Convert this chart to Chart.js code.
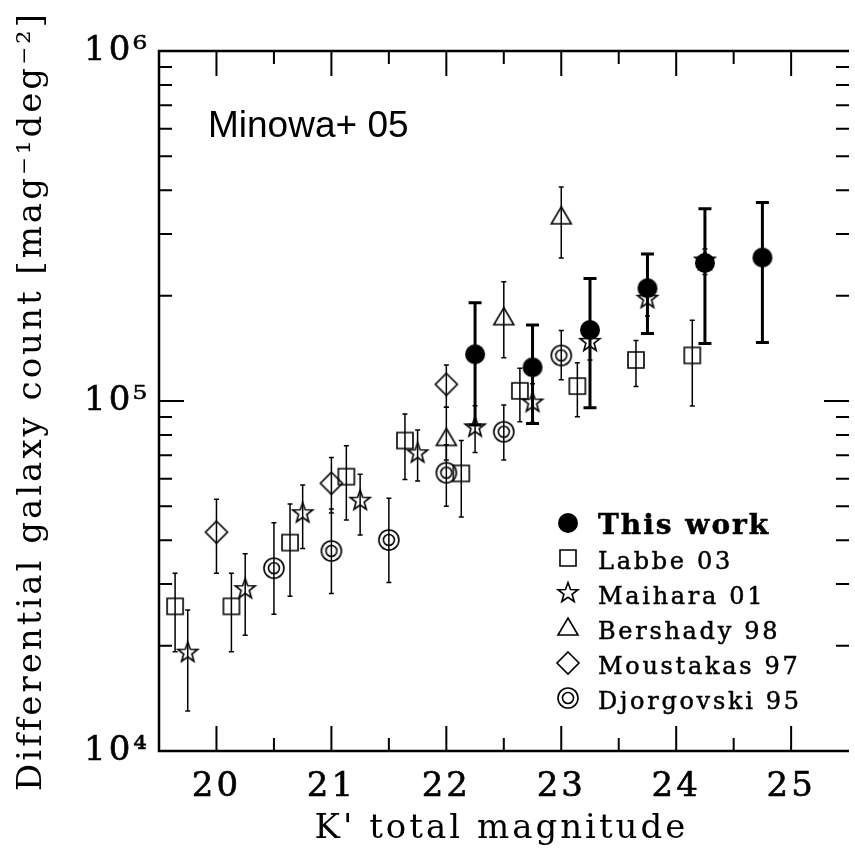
<!DOCTYPE html>
<html>
<head>
<meta charset="utf-8">
<script src="https://cdn.jsdelivr.net/npm/chart.js@4.4.1/dist/chart.umd.min.js"></script>
<style>
  html, body { margin: 0; padding: 0; background: #fff; overflow: hidden; }
  #wrap { width: 855px; height: 855px; }
</style>
</head>
<body>
<div id="wrap"><canvas id="myChart" width="855" height="855"></canvas></div>
<script>
// K' magnitude bins and counts (galaxies / mag / deg^2), with error bar ends
const thisWorkMag = [22.25, 22.75, 23.25, 23.75, 24.25, 24.75];
const thisWorkN   = [136000, 124800, 159600, 210000, 248000, 257000];
const thisWorkLo  = [85400, 86300, 95700, 156000, 146000, 147000];
const thisWorkHi  = [191000, 165000, 224000, 263000, 354000, 369000];

const labbeMag = [19.64, 20.13, 20.64, 21.13, 21.64, 22.13, 22.64, 23.14, 23.65, 24.14];
const labbeN   = [25900, 25900, 39400, 60800, 77100, 62100, 106900, 110300, 131000, 135000];
const labbeLo  = [19200, 19200, 27700, 45700, 59700, 46600, 87300, 90200, 110000, 96800];
const labbeHi  = [32200, 32200, 50800, 74500, 91800, 77100, 124000, 128600, 149000, 170000];

const maiharaMag = [19.75, 20.25, 20.75, 21.25, 21.75, 22.25, 22.75, 23.25, 23.75, 24.25];
const maiharaN   = [19100, 29000, 47800, 51900, 70900, 84100, 99000, 147600, 196000, 252000];
const maiharaLo  = [13000, 21400, 37900, 41400, 59100, 71300, 87000, 131000, 175000, 230000];
const maiharaHi  = [25300, 36600, 57500, 61800, 82600, 97000, 112000, 165000, 218000, 272000];

const bershadyMag = [22.0, 22.5, 23.0];
const bershadyN   = [78200, 173000, 336000];
const bershadyLo  = [67800, 133000, 256000];
const bershadyHi  = [96000, 219000, 409000];

const moustakasMag = [20.0, 21.0, 22.0];
const moustakasN   = [42200, 58200, 111600];
const moustakasLo  = [32200, 47900, 96000];
const moustakasHi  = [52400, 68900, 126700];

const djorgovskiMag = [20.5, 21.0, 21.5, 22.0, 22.5, 23.0];
const djorgovskiN   = [33300, 37300, 40100, 62400, 81700, 135000];
const djorgovskiLo  = [24600, 28200, 30300, 50000, 67800, 115000];
const djorgovskiHi  = [44900, 49100, 52700, 75000, 97400, 159000];

const magTicks = [20, 21, 22, 23, 24, 25];
const countTicks = [1e4, 1e5, 1e6];

const SERIF = '"DejaVu Serif", serif';
const SUP = {'4': '\u2074', '5': '\u2075', '6': '\u2076'};

// marker glyphs drawn once into small canvases, used as pointStyle
function makeMarker(kind) {
  const c = document.createElement('canvas');
  c.width = 26; c.height = 26;
  const g = c.getContext('2d');
  g.translate(13, 13);
  g.strokeStyle = '#000';
  g.fillStyle = '#000';
  g.lineWidth = 1.6;
  g.beginPath();
  if (kind === 'dot') {
    g.arc(0, 0, 10, 0, 2 * Math.PI);
    g.fill();
  } else if (kind === 'square') {
    g.rect(-8, -8, 16, 16);
    g.stroke();
  } else if (kind === 'star') {
    for (let i = 0; i < 10; i++) {
      const r = i % 2 ? 4.3 : 10.5;
      const a = -Math.PI / 2 + i * Math.PI / 5;
      g.lineTo(r * Math.cos(a), r * Math.sin(a));
    }
    g.closePath();
    g.stroke();
  } else if (kind === 'triangle') {
    g.moveTo(0, -10);
    g.lineTo(10, 7);
    g.lineTo(-10, 7);
    g.closePath();
    g.stroke();
  } else if (kind === 'diamond') {
    g.moveTo(0, -11);
    g.lineTo(11, 0);
    g.lineTo(0, 11);
    g.lineTo(-11, 0);
    g.closePath();
    g.stroke();
  } else if (kind === 'ring') {
    g.arc(0, 0, 10, 0, 2 * Math.PI);
    g.stroke();
    g.beginPath();
    g.arc(0, 0, 5.5, 0, 2 * Math.PI);
    g.stroke();
  }
  return c;
}

function series(label, kind, mag, n, lo, hi, thick) {
  return {
    label: label,
    data: mag.map((m, i) => ({x: m, y: n[i]})),
    errLo: lo,
    errHi: hi,
    errWidth: thick ? 3 : 1.5,
    capHalf: thick ? 6.5 : 2.5,
    pointStyle: makeMarker(kind),
    pointRadius: 10,
    showLine: false
  };
}

const datasets = [
  series('This work', 'dot', thisWorkMag, thisWorkN, thisWorkLo, thisWorkHi, true),
  series('Labbe 03', 'square', labbeMag, labbeN, labbeLo, labbeHi, false),
  series('Maihara 01', 'star', maiharaMag, maiharaN, maiharaLo, maiharaHi, false),
  series('Bershady 98', 'triangle', bershadyMag, bershadyN, bershadyLo, bershadyHi, false),
  series('Moustakas 97', 'diamond', moustakasMag, moustakasN, moustakasLo, moustakasHi, false),
  series('Djorgovski 95', 'ring', djorgovskiMag, djorgovskiN, djorgovskiLo, djorgovskiHi, false)
];

const frame = {
  id: 'frame',
  beforeDraw(chart) {
    chart.ctx.letterSpacing = '3px';
  },
  beforeDatasetsDraw(chart) {
    const ctx = chart.ctx, x = chart.scales.x, y = chart.scales.y;
    chart.data.datasets.forEach(ds => {
      ctx.save();
      ctx.strokeStyle = '#000';
      ctx.lineWidth = ds.errWidth;
      ds.data.forEach((p, i) => {
        const px = x.getPixelForValue(p.x);
        const top = y.getPixelForValue(ds.errHi[i]);
        const bot = y.getPixelForValue(ds.errLo[i]);
        ctx.beginPath();
        ctx.moveTo(px, top); ctx.lineTo(px, bot);
        ctx.moveTo(px - ds.capHalf, top); ctx.lineTo(px + ds.capHalf, top);
        ctx.moveTo(px - ds.capHalf, bot); ctx.lineTo(px + ds.capHalf, bot);
        ctx.stroke();
      });
      ctx.restore();
    });
  },
  afterDraw(chart) {
    const ctx = chart.ctx, xs = chart.scales.x, ys = chart.scales.y;
    const {left, right, top, bottom} = chart.chartArea;
    ctx.save();
    ctx.strokeStyle = '#000';

    // frame (right side runs off the picture)
    ctx.lineWidth = 2.5;
    ctx.beginPath();
    ctx.moveTo(right + 5, top);
    ctx.lineTo(left, top);
    ctx.lineTo(left, bottom);
    ctx.lineTo(right + 5, bottom);
    ctx.stroke();

    // inward ticks on all four sides
    ctx.lineWidth = 2;
    ctx.beginPath();
    for (let v = Math.ceil(xs.min * 2) / 2; v <= xs.max + 1e-9; v += 0.5) {
      const px = xs.getPixelForValue(v);
      const len = Number.isInteger(v) ? 25 : 13;
      ctx.moveTo(px, bottom); ctx.lineTo(px, bottom - len);
      ctx.moveTo(px, top); ctx.lineTo(px, top + len);
    }
    const edge = right + 5;
    const e0 = Math.round(Math.log10(ys.min)), e1 = Math.round(Math.log10(ys.max));
    for (let e = e0; e <= e1; e++) {
      for (let m = 1; m <= 9; m++) {
        const v = m * Math.pow(10, e);
        if (v > ys.max * 1.0001) break;
        const py = ys.getPixelForValue(v);
        const len = m === 1 ? 25 : 13;
        ctx.moveTo(left, py); ctx.lineTo(left + len, py);
        ctx.moveTo(edge, py); ctx.lineTo(edge - len, py);
      }
    }
    ctx.stroke();

    // panel label
    ctx.letterSpacing = '0px';
    ctx.fillStyle = '#000';
    ctx.textAlign = 'left';
    ctx.textBaseline = 'alphabetic';
    ctx.font = '37px "Liberation Sans", Arial, sans-serif';
    ctx.fillText('Minowa+ 05', 208, 137);

    // legend
    const lx = 568, ly = 523, rowH = 35;
    ctx.lineWidth = 0.5;
    chart.data.datasets.forEach((ds, i) => {
      const cy = ly + i * rowH;
      const img = ds.pointStyle;
      ctx.drawImage(img, lx - img.width / 2, cy - img.height / 2);
      if (i === 0) {
        ctx.font = 'bold 28px ' + SERIF;
        ctx.letterSpacing = '2px';
      } else {
        ctx.font = '24px ' + SERIF;
        ctx.letterSpacing = '2.7px';
      }
      ctx.fillText(ds.label, 598, cy + 11);
      ctx.strokeText(ds.label, 598, cy + 11);
    });
    ctx.restore();
  }
};

new Chart(document.getElementById('myChart'), {
  type: 'scatter',
  data: { datasets: datasets },
  options: {
    responsive: false,
    animation: false,
    devicePixelRatio: 1,
    layout: { padding: { left: 0, top: 51, right: 0, bottom: 0 } },
    plugins: {
      legend: { display: false },
      tooltip: { enabled: false }
    },
    scales: {
      x: {
        type: 'linear',
        min: 19.5,
        max: 25.46,
        afterBuildTicks: s => { s.ticks = magTicks.map(v => ({value: v})); },
        afterFit: s => { s.height = 104; },
        grid: { display: false, drawTicks: false },
        border: { display: false },
        ticks: {
          color: '#000',
          font: { family: SERIF, size: 34 },
          textStrokeColor: '#000',
          textStrokeWidth: 0.6,
          padding: 16,
          maxRotation: 0,
          autoSkip: false
        },
        title: {
          display: true,
          text: "K' total magnitude",
          color: '#000',
          font: { family: SERIF, size: 34 },
          padding: { top: 0, bottom: 5 }
        }
      },
      y: {
        type: 'logarithmic',
        min: 1e4,
        max: 1e6,
        afterBuildTicks: s => { s.ticks = countTicks.map(v => ({value: v})); },
        afterFit: s => { s.width = 159; },
        grid: { display: false, drawTicks: false },
        border: { display: false },
        ticks: {
          color: '#000',
          font: { family: SERIF, size: 34 },
          textStrokeColor: '#000',
          textStrokeWidth: 0.6,
          padding: 9,
          autoSkip: false,
          callback: v => '10' + SUP[String(Math.round(Math.log10(v)))]
        },
        title: {
          display: true,
          text: 'Differential galaxy count [mag\u207B\u00B9deg\u207B\u00B2]',
          color: '#000',
          font: { family: SERIF, size: 34 },
          padding: { top: 12, bottom: 0 }
        }
      }
    }
  },
  plugins: [frame]
});
</script>
</body>
</html>
